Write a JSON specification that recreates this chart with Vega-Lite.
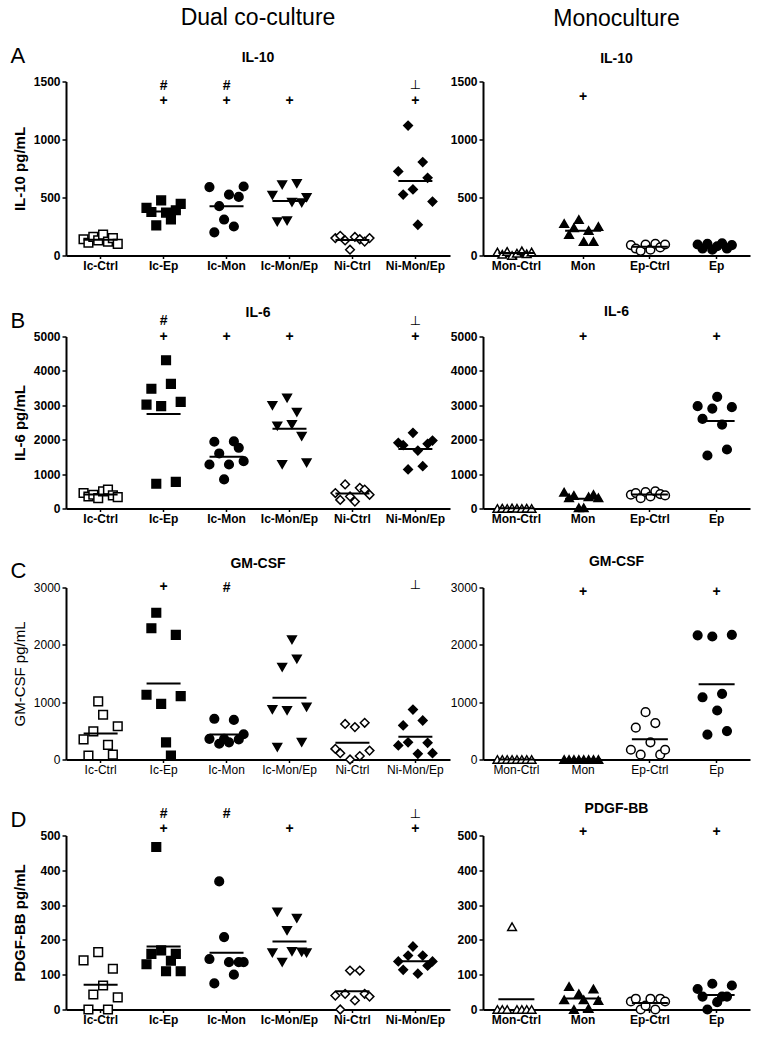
{
"$schema": "https://vega.github.io/schema/vega-lite/v6.json",
"background": "white",
"padding": {"left": 10, "top": 6.5, "right": 5, "bottom": 5},
"config": {
  "view": {"stroke": null},
  "axis": {"domainColor": "black", "domainWidth": 2, "tickColor": "black", "tickWidth": 1.5, "labelColor": "black", "titleColor": "black", "labelFont": "Liberation Sans", "titleFont": "Liberation Sans", "labelFontSize": 12, "labelFontWeight": "bold", "titleFontSize": 15, "titleFontWeight": "bold", "grid": false, "labelOverlap": false},
  "axisX": {"labelAngle": 0, "tickSize": 3, "labelPadding": 2},
  "axisY": {"tickSize": 4, "labelPadding": 2, "minExtent": 33, "titlePadding": 6, "format": "d", "labelOverlap": false, "tickCount": 10},
  "title": {"font": "Liberation Sans", "fontSize": 14, "fontWeight": "bold", "color": "black", "anchor": "middle", "frame": "group", "offset": 0, "subtitleFont": "Liberation Sans", "subtitleFontSize": 14, "subtitleFontWeight": "bold", "subtitleColor": "black", "subtitlePadding": 20.5}
},
"datasets": {
"pts": [
{"c":"IL-10","s":"d","g":"Ic-Ctrl","r":1,"v":140},{"c":"IL-10","s":"d","g":"Ic-Ctrl","r":2,"v":110},{"c":"IL-10","s":"d","g":"Ic-Ctrl","r":3,"v":160},{"c":"IL-10","s":"d","g":"Ic-Ctrl","r":4,"v":130},{"c":"IL-10","s":"d","g":"Ic-Ctrl","r":5,"v":180},{"c":"IL-10","s":"d","g":"Ic-Ctrl","r":6,"v":120},{"c":"IL-10","s":"d","g":"Ic-Ctrl","r":7,"v":150},{"c":"IL-10","s":"d","g":"Ic-Ctrl","r":8,"v":100},
{"c":"IL-10","s":"d","g":"Ic-Ep","r":1,"v":410},{"c":"IL-10","s":"d","g":"Ic-Ep","r":2,"v":375},{"c":"IL-10","s":"d","g":"Ic-Ep","r":3,"v":260},{"c":"IL-10","s":"d","g":"Ic-Ep","r":4,"v":475},{"c":"IL-10","s":"d","g":"Ic-Ep","r":5,"v":370},{"c":"IL-10","s":"d","g":"Ic-Ep","r":6,"v":310},{"c":"IL-10","s":"d","g":"Ic-Ep","r":7,"v":390},{"c":"IL-10","s":"d","g":"Ic-Ep","r":8,"v":445},
{"c":"IL-10","s":"d","g":"Ic-Mon","r":1,"v":590},{"c":"IL-10","s":"d","g":"Ic-Mon","r":2,"v":200},{"c":"IL-10","s":"d","g":"Ic-Mon","r":3,"v":425},{"c":"IL-10","s":"d","g":"Ic-Mon","r":4,"v":310},{"c":"IL-10","s":"d","g":"Ic-Mon","r":5,"v":525},{"c":"IL-10","s":"d","g":"Ic-Mon","r":6,"v":250},{"c":"IL-10","s":"d","g":"Ic-Mon","r":7,"v":505},{"c":"IL-10","s":"d","g":"Ic-Mon","r":8,"v":595},
{"c":"IL-10","s":"d","g":"Ic-Mon/Ep","r":1,"v":520},{"c":"IL-10","s":"d","g":"Ic-Mon/Ep","r":2,"v":290},{"c":"IL-10","s":"d","g":"Ic-Mon/Ep","r":3,"v":610},{"c":"IL-10","s":"d","g":"Ic-Mon/Ep","r":4,"v":300},{"c":"IL-10","s":"d","g":"Ic-Mon/Ep","r":5,"v":460},{"c":"IL-10","s":"d","g":"Ic-Mon/Ep","r":6,"v":620},{"c":"IL-10","s":"d","g":"Ic-Mon/Ep","r":7,"v":455},{"c":"IL-10","s":"d","g":"Ic-Mon/Ep","r":8,"v":500},
{"c":"IL-10","s":"d","g":"Ni-Ctrl","r":1,"v":150},{"c":"IL-10","s":"d","g":"Ni-Ctrl","r":2,"v":170},{"c":"IL-10","s":"d","g":"Ni-Ctrl","r":3,"v":130},{"c":"IL-10","s":"d","g":"Ni-Ctrl","r":4,"v":50},{"c":"IL-10","s":"d","g":"Ni-Ctrl","r":5,"v":160},{"c":"IL-10","s":"d","g":"Ni-Ctrl","r":6,"v":140},{"c":"IL-10","s":"d","g":"Ni-Ctrl","r":7,"v":120},{"c":"IL-10","s":"d","g":"Ni-Ctrl","r":8,"v":150},
{"c":"IL-10","s":"d","g":"Ni-Mon/Ep","r":1,"v":725},{"c":"IL-10","s":"d","g":"Ni-Mon/Ep","r":2,"v":525},{"c":"IL-10","s":"d","g":"Ni-Mon/Ep","r":3,"v":1120},{"c":"IL-10","s":"d","g":"Ni-Mon/Ep","r":4,"v":570},{"c":"IL-10","s":"d","g":"Ni-Mon/Ep","r":5,"v":265},{"c":"IL-10","s":"d","g":"Ni-Mon/Ep","r":6,"v":805},{"c":"IL-10","s":"d","g":"Ni-Mon/Ep","r":7,"v":670},{"c":"IL-10","s":"d","g":"Ni-Mon/Ep","r":8,"v":465},
{"c":"IL-10","s":"m","g":"Mon-Ctrl","r":1,"v":30},{"c":"IL-10","s":"m","g":"Mon-Ctrl","r":2,"v":10},{"c":"IL-10","s":"m","g":"Mon-Ctrl","r":3,"v":35},{"c":"IL-10","s":"m","g":"Mon-Ctrl","r":4,"v":0},{"c":"IL-10","s":"m","g":"Mon-Ctrl","r":5,"v":20},{"c":"IL-10","s":"m","g":"Mon-Ctrl","r":6,"v":40},{"c":"IL-10","s":"m","g":"Mon-Ctrl","r":7,"v":15},{"c":"IL-10","s":"m","g":"Mon-Ctrl","r":8,"v":30},
{"c":"IL-10","s":"m","g":"Mon","r":1,"v":275},{"c":"IL-10","s":"m","g":"Mon","r":2,"v":180},{"c":"IL-10","s":"m","g":"Mon","r":3,"v":240},{"c":"IL-10","s":"m","g":"Mon","r":4,"v":310},{"c":"IL-10","s":"m","g":"Mon","r":5,"v":120},{"c":"IL-10","s":"m","g":"Mon","r":6,"v":215},{"c":"IL-10","s":"m","g":"Mon","r":7,"v":120},{"c":"IL-10","s":"m","g":"Mon","r":8,"v":250},
{"c":"IL-10","s":"m","g":"Ep-Ctrl","r":1,"v":90},{"c":"IL-10","s":"m","g":"Ep-Ctrl","r":2,"v":60},{"c":"IL-10","s":"m","g":"Ep-Ctrl","r":3,"v":40},{"c":"IL-10","s":"m","g":"Ep-Ctrl","r":4,"v":95},{"c":"IL-10","s":"m","g":"Ep-Ctrl","r":5,"v":50},{"c":"IL-10","s":"m","g":"Ep-Ctrl","r":6,"v":100},{"c":"IL-10","s":"m","g":"Ep-Ctrl","r":7,"v":70},{"c":"IL-10","s":"m","g":"Ep-Ctrl","r":8,"v":95},
{"c":"IL-10","s":"m","g":"Ep","r":1,"v":95},{"c":"IL-10","s":"m","g":"Ep","r":2,"v":60},{"c":"IL-10","s":"m","g":"Ep","r":3,"v":100},{"c":"IL-10","s":"m","g":"Ep","r":4,"v":50},{"c":"IL-10","s":"m","g":"Ep","r":5,"v":80},{"c":"IL-10","s":"m","g":"Ep","r":6,"v":105},{"c":"IL-10","s":"m","g":"Ep","r":7,"v":60},{"c":"IL-10","s":"m","g":"Ep","r":8,"v":90},
{"c":"IL-6","s":"d","g":"Ic-Ctrl","r":1,"v":450},{"c":"IL-6","s":"d","g":"Ic-Ctrl","r":2,"v":350},{"c":"IL-6","s":"d","g":"Ic-Ctrl","r":3,"v":400},{"c":"IL-6","s":"d","g":"Ic-Ctrl","r":4,"v":300},{"c":"IL-6","s":"d","g":"Ic-Ctrl","r":5,"v":500},{"c":"IL-6","s":"d","g":"Ic-Ctrl","r":6,"v":550},{"c":"IL-6","s":"d","g":"Ic-Ctrl","r":7,"v":380},{"c":"IL-6","s":"d","g":"Ic-Ctrl","r":8,"v":330},
{"c":"IL-6","s":"d","g":"Ic-Ep","r":1,"v":3020},{"c":"IL-6","s":"d","g":"Ic-Ep","r":2,"v":3480},{"c":"IL-6","s":"d","g":"Ic-Ep","r":3,"v":720},{"c":"IL-6","s":"d","g":"Ic-Ep","r":4,"v":2975},{"c":"IL-6","s":"d","g":"Ic-Ep","r":5,"v":4310},{"c":"IL-6","s":"d","g":"Ic-Ep","r":6,"v":3625},{"c":"IL-6","s":"d","g":"Ic-Ep","r":7,"v":775},{"c":"IL-6","s":"d","g":"Ic-Ep","r":8,"v":3100},
{"c":"IL-6","s":"d","g":"Ic-Mon","r":1,"v":1280},{"c":"IL-6","s":"d","g":"Ic-Mon","r":2,"v":1940},{"c":"IL-6","s":"d","g":"Ic-Mon","r":3,"v":1600},{"c":"IL-6","s":"d","g":"Ic-Mon","r":4,"v":845},{"c":"IL-6","s":"d","g":"Ic-Mon","r":5,"v":1280},{"c":"IL-6","s":"d","g":"Ic-Mon","r":6,"v":1950},{"c":"IL-6","s":"d","g":"Ic-Mon","r":7,"v":1765},{"c":"IL-6","s":"d","g":"Ic-Mon","r":8,"v":1375},
{"c":"IL-6","s":"d","g":"Ic-Mon/Ep","r":1,"v":2995},{"c":"IL-6","s":"d","g":"Ic-Mon/Ep","r":2,"v":2400},{"c":"IL-6","s":"d","g":"Ic-Mon/Ep","r":3,"v":1280},{"c":"IL-6","s":"d","g":"Ic-Mon/Ep","r":4,"v":3215},{"c":"IL-6","s":"d","g":"Ic-Mon/Ep","r":5,"v":2440},{"c":"IL-6","s":"d","g":"Ic-Mon/Ep","r":6,"v":2800},{"c":"IL-6","s":"d","g":"Ic-Mon/Ep","r":7,"v":2100},{"c":"IL-6","s":"d","g":"Ic-Mon/Ep","r":8,"v":1330},
{"c":"IL-6","s":"d","g":"Ni-Ctrl","r":1,"v":450},{"c":"IL-6","s":"d","g":"Ni-Ctrl","r":2,"v":250},{"c":"IL-6","s":"d","g":"Ni-Ctrl","r":3,"v":700},{"c":"IL-6","s":"d","g":"Ni-Ctrl","r":4,"v":350},{"c":"IL-6","s":"d","g":"Ni-Ctrl","r":5,"v":200},{"c":"IL-6","s":"d","g":"Ni-Ctrl","r":6,"v":600},{"c":"IL-6","s":"d","g":"Ni-Ctrl","r":7,"v":550},{"c":"IL-6","s":"d","g":"Ni-Ctrl","r":8,"v":400},
{"c":"IL-6","s":"d","g":"Ni-Mon/Ep","r":1,"v":1910},{"c":"IL-6","s":"d","g":"Ni-Mon/Ep","r":2,"v":1840},{"c":"IL-6","s":"d","g":"Ni-Mon/Ep","r":3,"v":1135},{"c":"IL-6","s":"d","g":"Ni-Mon/Ep","r":4,"v":2200},{"c":"IL-6","s":"d","g":"Ni-Mon/Ep","r":5,"v":1685},{"c":"IL-6","s":"d","g":"Ni-Mon/Ep","r":6,"v":1230},{"c":"IL-6","s":"d","g":"Ni-Mon/Ep","r":7,"v":1880},{"c":"IL-6","s":"d","g":"Ni-Mon/Ep","r":8,"v":1975},
{"c":"IL-6","s":"m","g":"Mon-Ctrl","r":1,"v":0},{"c":"IL-6","s":"m","g":"Mon-Ctrl","r":2,"v":10},{"c":"IL-6","s":"m","g":"Mon-Ctrl","r":3,"v":0},{"c":"IL-6","s":"m","g":"Mon-Ctrl","r":4,"v":15},{"c":"IL-6","s":"m","g":"Mon-Ctrl","r":5,"v":5},{"c":"IL-6","s":"m","g":"Mon-Ctrl","r":6,"v":0},{"c":"IL-6","s":"m","g":"Mon-Ctrl","r":7,"v":10},{"c":"IL-6","s":"m","g":"Mon-Ctrl","r":8,"v":0},
{"c":"IL-6","s":"m","g":"Mon","r":1,"v":475},{"c":"IL-6","s":"m","g":"Mon","r":2,"v":310},{"c":"IL-6","s":"m","g":"Mon","r":3,"v":380},{"c":"IL-6","s":"m","g":"Mon","r":4,"v":20},{"c":"IL-6","s":"m","g":"Mon","r":5,"v":20},{"c":"IL-6","s":"m","g":"Mon","r":6,"v":340},{"c":"IL-6","s":"m","g":"Mon","r":7,"v":405},{"c":"IL-6","s":"m","g":"Mon","r":8,"v":310},
{"c":"IL-6","s":"m","g":"Ep-Ctrl","r":1,"v":400},{"c":"IL-6","s":"m","g":"Ep-Ctrl","r":2,"v":450},{"c":"IL-6","s":"m","g":"Ep-Ctrl","r":3,"v":300},{"c":"IL-6","s":"m","g":"Ep-Ctrl","r":4,"v":480},{"c":"IL-6","s":"m","g":"Ep-Ctrl","r":5,"v":350},{"c":"IL-6","s":"m","g":"Ep-Ctrl","r":6,"v":500},{"c":"IL-6","s":"m","g":"Ep-Ctrl","r":7,"v":420},{"c":"IL-6","s":"m","g":"Ep-Ctrl","r":8,"v":380},
{"c":"IL-6","s":"m","g":"Ep","r":1,"v":2975},{"c":"IL-6","s":"m","g":"Ep","r":2,"v":2605},{"c":"IL-6","s":"m","g":"Ep","r":3,"v":1540},{"c":"IL-6","s":"m","g":"Ep","r":4,"v":2905},{"c":"IL-6","s":"m","g":"Ep","r":5,"v":3245},{"c":"IL-6","s":"m","g":"Ep","r":6,"v":2440},{"c":"IL-6","s":"m","g":"Ep","r":7,"v":1715},{"c":"IL-6","s":"m","g":"Ep","r":8,"v":2945},
{"c":"GM-CSF","s":"d","g":"Ic-Ctrl","r":1,"v":350},{"c":"GM-CSF","s":"d","g":"Ic-Ctrl","r":2,"v":70},{"c":"GM-CSF","s":"d","g":"Ic-Ctrl","r":3,"v":490},{"c":"GM-CSF","s":"d","g":"Ic-Ctrl","r":4,"v":1015},{"c":"GM-CSF","s":"d","g":"Ic-Ctrl","r":5,"v":780},{"c":"GM-CSF","s":"d","g":"Ic-Ctrl","r":6,"v":255},{"c":"GM-CSF","s":"d","g":"Ic-Ctrl","r":7,"v":85},{"c":"GM-CSF","s":"d","g":"Ic-Ctrl","r":8,"v":580},
{"c":"GM-CSF","s":"d","g":"Ic-Ep","r":1,"v":1130},{"c":"GM-CSF","s":"d","g":"Ic-Ep","r":2,"v":2290},{"c":"GM-CSF","s":"d","g":"Ic-Ep","r":3,"v":2560},{"c":"GM-CSF","s":"d","g":"Ic-Ep","r":4,"v":970},{"c":"GM-CSF","s":"d","g":"Ic-Ep","r":5,"v":300},{"c":"GM-CSF","s":"d","g":"Ic-Ep","r":6,"v":70},{"c":"GM-CSF","s":"d","g":"Ic-Ep","r":7,"v":2175},{"c":"GM-CSF","s":"d","g":"Ic-Ep","r":8,"v":1105},
{"c":"GM-CSF","s":"d","g":"Ic-Mon","r":1,"v":360},{"c":"GM-CSF","s":"d","g":"Ic-Mon","r":2,"v":710},{"c":"GM-CSF","s":"d","g":"Ic-Mon","r":3,"v":275},{"c":"GM-CSF","s":"d","g":"Ic-Mon","r":4,"v":360},{"c":"GM-CSF","s":"d","g":"Ic-Mon","r":5,"v":300},{"c":"GM-CSF","s":"d","g":"Ic-Mon","r":6,"v":690},{"c":"GM-CSF","s":"d","g":"Ic-Mon","r":7,"v":350},{"c":"GM-CSF","s":"d","g":"Ic-Mon","r":8,"v":440},
{"c":"GM-CSF","s":"d","g":"Ic-Mon/Ep","r":1,"v":870},{"c":"GM-CSF","s":"d","g":"Ic-Mon/Ep","r":2,"v":215},{"c":"GM-CSF","s":"d","g":"Ic-Mon/Ep","r":3,"v":1610},{"c":"GM-CSF","s":"d","g":"Ic-Mon/Ep","r":4,"v":855},{"c":"GM-CSF","s":"d","g":"Ic-Mon/Ep","r":5,"v":2090},{"c":"GM-CSF","s":"d","g":"Ic-Mon/Ep","r":6,"v":1755},{"c":"GM-CSF","s":"d","g":"Ic-Mon/Ep","r":7,"v":300},{"c":"GM-CSF","s":"d","g":"Ic-Mon/Ep","r":8,"v":915},
{"c":"GM-CSF","s":"d","g":"Ni-Ctrl","r":1,"v":185},{"c":"GM-CSF","s":"d","g":"Ni-Ctrl","r":2,"v":110},{"c":"GM-CSF","s":"d","g":"Ni-Ctrl","r":3,"v":620},{"c":"GM-CSF","s":"d","g":"Ni-Ctrl","r":4,"v":0},{"c":"GM-CSF","s":"d","g":"Ni-Ctrl","r":5,"v":565},{"c":"GM-CSF","s":"d","g":"Ni-Ctrl","r":6,"v":60},{"c":"GM-CSF","s":"d","g":"Ni-Ctrl","r":7,"v":640},{"c":"GM-CSF","s":"d","g":"Ni-Ctrl","r":8,"v":155},
{"c":"GM-CSF","s":"d","g":"Ni-Mon/Ep","r":1,"v":245},{"c":"GM-CSF","s":"d","g":"Ni-Mon/Ep","r":2,"v":595},{"c":"GM-CSF","s":"d","g":"Ni-Mon/Ep","r":3,"v":300},{"c":"GM-CSF","s":"d","g":"Ni-Mon/Ep","r":4,"v":870},{"c":"GM-CSF","s":"d","g":"Ni-Mon/Ep","r":5,"v":100},{"c":"GM-CSF","s":"d","g":"Ni-Mon/Ep","r":6,"v":680},{"c":"GM-CSF","s":"d","g":"Ni-Mon/Ep","r":7,"v":290},{"c":"GM-CSF","s":"d","g":"Ni-Mon/Ep","r":8,"v":110},
{"c":"GM-CSF","s":"m","g":"Mon-Ctrl","r":1,"v":0},{"c":"GM-CSF","s":"m","g":"Mon-Ctrl","r":2,"v":0},{"c":"GM-CSF","s":"m","g":"Mon-Ctrl","r":3,"v":0},{"c":"GM-CSF","s":"m","g":"Mon-Ctrl","r":4,"v":0},{"c":"GM-CSF","s":"m","g":"Mon-Ctrl","r":5,"v":0},{"c":"GM-CSF","s":"m","g":"Mon-Ctrl","r":6,"v":0},{"c":"GM-CSF","s":"m","g":"Mon-Ctrl","r":7,"v":0},{"c":"GM-CSF","s":"m","g":"Mon-Ctrl","r":8,"v":0},
{"c":"GM-CSF","s":"m","g":"Mon","r":1,"v":0},{"c":"GM-CSF","s":"m","g":"Mon","r":2,"v":0},{"c":"GM-CSF","s":"m","g":"Mon","r":3,"v":0},{"c":"GM-CSF","s":"m","g":"Mon","r":4,"v":0},{"c":"GM-CSF","s":"m","g":"Mon","r":5,"v":0},{"c":"GM-CSF","s":"m","g":"Mon","r":6,"v":0},{"c":"GM-CSF","s":"m","g":"Mon","r":7,"v":0},{"c":"GM-CSF","s":"m","g":"Mon","r":8,"v":0},
{"c":"GM-CSF","s":"m","g":"Ep-Ctrl","r":1,"v":170},{"c":"GM-CSF","s":"m","g":"Ep-Ctrl","r":2,"v":555},{"c":"GM-CSF","s":"m","g":"Ep-Ctrl","r":3,"v":85},{"c":"GM-CSF","s":"m","g":"Ep-Ctrl","r":4,"v":825},{"c":"GM-CSF","s":"m","g":"Ep-Ctrl","r":5,"v":300},{"c":"GM-CSF","s":"m","g":"Ep-Ctrl","r":6,"v":635},{"c":"GM-CSF","s":"m","g":"Ep-Ctrl","r":7,"v":85},{"c":"GM-CSF","s":"m","g":"Ep-Ctrl","r":8,"v":170},
{"c":"GM-CSF","s":"m","g":"Ep","r":1,"v":2165},{"c":"GM-CSF","s":"m","g":"Ep","r":2,"v":1085},{"c":"GM-CSF","s":"m","g":"Ep","r":3,"v":435},{"c":"GM-CSF","s":"m","g":"Ep","r":4,"v":2145},{"c":"GM-CSF","s":"m","g":"Ep","r":5,"v":855},{"c":"GM-CSF","s":"m","g":"Ep","r":6,"v":1145},{"c":"GM-CSF","s":"m","g":"Ep","r":7,"v":495},{"c":"GM-CSF","s":"m","g":"Ep","r":8,"v":2175},
{"c":"PDGF-BB","s":"d","g":"Ic-Ctrl","r":1,"v":141},{"c":"PDGF-BB","s":"d","g":"Ic-Ctrl","r":2,"v":0},{"c":"PDGF-BB","s":"d","g":"Ic-Ctrl","r":3,"v":43},{"c":"PDGF-BB","s":"d","g":"Ic-Ctrl","r":4,"v":165},{"c":"PDGF-BB","s":"d","g":"Ic-Ctrl","r":5,"v":69},{"c":"PDGF-BB","s":"d","g":"Ic-Ctrl","r":6,"v":0},{"c":"PDGF-BB","s":"d","g":"Ic-Ctrl","r":7,"v":117},{"c":"PDGF-BB","s":"d","g":"Ic-Ctrl","r":8,"v":35},
{"c":"PDGF-BB","s":"d","g":"Ic-Ep","r":1,"v":130},{"c":"PDGF-BB","s":"d","g":"Ic-Ep","r":2,"v":160},{"c":"PDGF-BB","s":"d","g":"Ic-Ep","r":3,"v":467},{"c":"PDGF-BB","s":"d","g":"Ic-Ep","r":4,"v":170},{"c":"PDGF-BB","s":"d","g":"Ic-Ep","r":5,"v":110},{"c":"PDGF-BB","s":"d","g":"Ic-Ep","r":6,"v":140},{"c":"PDGF-BB","s":"d","g":"Ic-Ep","r":7,"v":160},{"c":"PDGF-BB","s":"d","g":"Ic-Ep","r":8,"v":110},
{"c":"PDGF-BB","s":"d","g":"Ic-Mon","r":1,"v":145},{"c":"PDGF-BB","s":"d","g":"Ic-Mon","r":2,"v":75},{"c":"PDGF-BB","s":"d","g":"Ic-Mon","r":3,"v":368},{"c":"PDGF-BB","s":"d","g":"Ic-Mon","r":4,"v":208},{"c":"PDGF-BB","s":"d","g":"Ic-Mon","r":5,"v":136},{"c":"PDGF-BB","s":"d","g":"Ic-Mon","r":6,"v":100},{"c":"PDGF-BB","s":"d","g":"Ic-Mon","r":7,"v":136},{"c":"PDGF-BB","s":"d","g":"Ic-Mon","r":8,"v":136},
{"c":"PDGF-BB","s":"d","g":"Ic-Mon/Ep","r":1,"v":163},{"c":"PDGF-BB","s":"d","g":"Ic-Mon/Ep","r":2,"v":280},{"c":"PDGF-BB","s":"d","g":"Ic-Mon/Ep","r":3,"v":136},{"c":"PDGF-BB","s":"d","g":"Ic-Mon/Ep","r":4,"v":227},{"c":"PDGF-BB","s":"d","g":"Ic-Mon/Ep","r":5,"v":167},{"c":"PDGF-BB","s":"d","g":"Ic-Mon/Ep","r":6,"v":262},{"c":"PDGF-BB","s":"d","g":"Ic-Mon/Ep","r":7,"v":165},{"c":"PDGF-BB","s":"d","g":"Ic-Mon/Ep","r":8,"v":163},
{"c":"PDGF-BB","s":"d","g":"Ni-Ctrl","r":1,"v":40},{"c":"PDGF-BB","s":"d","g":"Ni-Ctrl","r":2,"v":0},{"c":"PDGF-BB","s":"d","g":"Ni-Ctrl","r":3,"v":45},{"c":"PDGF-BB","s":"d","g":"Ni-Ctrl","r":4,"v":112},{"c":"PDGF-BB","s":"d","g":"Ni-Ctrl","r":5,"v":26},{"c":"PDGF-BB","s":"d","g":"Ni-Ctrl","r":6,"v":112},{"c":"PDGF-BB","s":"d","g":"Ni-Ctrl","r":7,"v":45},{"c":"PDGF-BB","s":"d","g":"Ni-Ctrl","r":8,"v":37},
{"c":"PDGF-BB","s":"d","g":"Ni-Mon/Ep","r":1,"v":138},{"c":"PDGF-BB","s":"d","g":"Ni-Mon/Ep","r":2,"v":114},{"c":"PDGF-BB","s":"d","g":"Ni-Mon/Ep","r":3,"v":155},{"c":"PDGF-BB","s":"d","g":"Ni-Mon/Ep","r":4,"v":181},{"c":"PDGF-BB","s":"d","g":"Ni-Mon/Ep","r":5,"v":103},{"c":"PDGF-BB","s":"d","g":"Ni-Mon/Ep","r":6,"v":155},{"c":"PDGF-BB","s":"d","g":"Ni-Mon/Ep","r":7,"v":126},{"c":"PDGF-BB","s":"d","g":"Ni-Mon/Ep","r":8,"v":138},
{"c":"PDGF-BB","s":"m","g":"Mon-Ctrl","r":1,"v":0},{"c":"PDGF-BB","s":"m","g":"Mon-Ctrl","r":2,"v":0},{"c":"PDGF-BB","s":"m","g":"Mon-Ctrl","r":3,"v":0},{"c":"PDGF-BB","s":"m","g":"Mon-Ctrl","r":4,"v":238},{"c":"PDGF-BB","s":"m","g":"Mon-Ctrl","r":5,"v":0},{"c":"PDGF-BB","s":"m","g":"Mon-Ctrl","r":6,"v":0},{"c":"PDGF-BB","s":"m","g":"Mon-Ctrl","r":7,"v":0},{"c":"PDGF-BB","s":"m","g":"Mon-Ctrl","r":8,"v":0},
{"c":"PDGF-BB","s":"m","g":"Mon","r":1,"v":28},{"c":"PDGF-BB","s":"m","g":"Mon","r":2,"v":66},{"c":"PDGF-BB","s":"m","g":"Mon","r":3,"v":0},{"c":"PDGF-BB","s":"m","g":"Mon","r":4,"v":45},{"c":"PDGF-BB","s":"m","g":"Mon","r":5,"v":28},{"c":"PDGF-BB","s":"m","g":"Mon","r":6,"v":3},{"c":"PDGF-BB","s":"m","g":"Mon","r":7,"v":59},{"c":"PDGF-BB","s":"m","g":"Mon","r":8,"v":26},
{"c":"PDGF-BB","s":"m","g":"Ep-Ctrl","r":1,"v":23},{"c":"PDGF-BB","s":"m","g":"Ep-Ctrl","r":2,"v":31},{"c":"PDGF-BB","s":"m","g":"Ep-Ctrl","r":3,"v":0},{"c":"PDGF-BB","s":"m","g":"Ep-Ctrl","r":4,"v":11},{"c":"PDGF-BB","s":"m","g":"Ep-Ctrl","r":5,"v":31},{"c":"PDGF-BB","s":"m","g":"Ep-Ctrl","r":6,"v":0},{"c":"PDGF-BB","s":"m","g":"Ep-Ctrl","r":7,"v":31},{"c":"PDGF-BB","s":"m","g":"Ep-Ctrl","r":8,"v":23},
{"c":"PDGF-BB","s":"m","g":"Ep","r":1,"v":59},{"c":"PDGF-BB","s":"m","g":"Ep","r":2,"v":37},{"c":"PDGF-BB","s":"m","g":"Ep","r":3,"v":0},{"c":"PDGF-BB","s":"m","g":"Ep","r":4,"v":74},{"c":"PDGF-BB","s":"m","g":"Ep","r":5,"v":21},{"c":"PDGF-BB","s":"m","g":"Ep","r":6,"v":37},{"c":"PDGF-BB","s":"m","g":"Ep","r":7,"v":37},{"c":"PDGF-BB","s":"m","g":"Ep","r":8,"v":69}
],
"ann": [
{"c":"IL-10","s":"d","g":"Ic-Ep","m":"+","v":1336},{"c":"IL-10","s":"d","g":"Ic-Ep","m":"#","v":1460},{"c":"IL-10","s":"d","g":"Ic-Mon","m":"+","v":1336},{"c":"IL-10","s":"d","g":"Ic-Mon","m":"#","v":1460},{"c":"IL-10","s":"d","g":"Ic-Mon/Ep","m":"+","v":1336},{"c":"IL-10","s":"d","g":"Ni-Mon/Ep","m":"+","v":1336},{"c":"IL-10","s":"d","g":"Ni-Mon/Ep","m":"⊥","v":1474},
{"c":"IL-10","s":"m","g":"Mon","m":"+","v":1364},
{"c":"IL-6","s":"d","g":"Ic-Ep","m":"+","v":5000},{"c":"IL-6","s":"d","g":"Ic-Ep","m":"#","v":5445},{"c":"IL-6","s":"d","g":"Ic-Mon","m":"+","v":5000},{"c":"IL-6","s":"d","g":"Ic-Mon/Ep","m":"+","v":5000},{"c":"IL-6","s":"d","g":"Ni-Mon/Ep","m":"+","v":5000},{"c":"IL-6","s":"d","g":"Ni-Mon/Ep","m":"⊥","v":5440},
{"c":"IL-6","s":"m","g":"Mon","m":"+","v":5000},{"c":"IL-6","s":"m","g":"Ep","m":"+","v":5000},
{"c":"GM-CSF","s":"d","g":"Ic-Ep","m":"+","v":3010},{"c":"GM-CSF","s":"d","g":"Ic-Mon","m":"#","v":3000},{"c":"GM-CSF","s":"d","g":"Ni-Mon/Ep","m":"⊥","v":3035},
{"c":"GM-CSF","s":"m","g":"Mon","m":"+","v":2920},{"c":"GM-CSF","s":"m","g":"Ep","m":"+","v":2920},
{"c":"PDGF-BB","s":"d","g":"Ic-Ep","m":"+","v":519},{"c":"PDGF-BB","s":"d","g":"Ic-Ep","m":"#","v":562},{"c":"PDGF-BB","s":"d","g":"Ic-Mon","m":"#","v":562},{"c":"PDGF-BB","s":"d","g":"Ic-Mon/Ep","m":"+","v":519},{"c":"PDGF-BB","s":"d","g":"Ni-Mon/Ep","m":"+","v":519},{"c":"PDGF-BB","s":"d","g":"Ni-Mon/Ep","m":"⊥","v":562},
{"c":"PDGF-BB","s":"m","g":"Mon","m":"+","v":511},{"c":"PDGF-BB","s":"m","g":"Ep","m":"+","v":511}
]
},
"spacing": 16,
"vconcat": [
{"spacing": 0, "hconcat": [
 {"width": 384, "height": 174,
  "title": {"text": "Dual co-culture", "subtitle": "IL-10", "fontSize": 23, "fontWeight": "normal", "dy": 24},
  "layer": [
   {"data": {"name": "pts"}, "transform": [{"filter": "datum.c=='IL-10' && datum.s=='d'"}],
    "mark": {"type": "point", "filled": true, "size": 75, "stroke": "black", "strokeWidth": 1.5, "opacity": 1},
    "encoding": {
     "x": {"field": "g", "type": "nominal", "scale": {"domain": ["Ic-Ctrl","Ic-Ep","Ic-Mon","Ic-Mon/Ep","Ni-Ctrl","Ni-Mon/Ep"], "paddingInner": 0, "paddingOuter": 0.05}, "axis": {"title": "A", "titleX": -56, "titleY": -193, "titleAngle": 0, "titleFontSize": 22, "titleFontWeight": "normal", "titleAlign": "left", "titleBaseline": "alphabetic", "minExtent": 33}},
     "xOffset": {"field": "r", "type": "ordinal", "scale": {"range": [14.4, 48.6], "paddingInner": 0, "paddingOuter": 0}},
     "y": {"field": "v", "type": "quantitative", "scale": {"domain": [0, 1500], "nice": false}, "axis": {"values": [0, 500, 1000, 1500], "tickCount": 10, "format": "d", "labelOverlap": false, "title": "IL-10 pg/mL"}},
     "shape": {"field": "g", "type": "nominal", "scale": {"domain": ["Ic-Ctrl","Ic-Ep","Ic-Mon","Ic-Mon/Ep","Ni-Ctrl","Ni-Mon/Ep","Mon-Ctrl","Mon","Ep-Ctrl","Ep"], "range": ["square","square","circle","triangle-down","diamond","diamond","triangle-up","triangle-up","circle","circle"]}, "legend": null},
     "fill": {"field": "g", "type": "nominal", "scale": {"domain": ["Ic-Ctrl","Ic-Ep","Ic-Mon","Ic-Mon/Ep","Ni-Ctrl","Ni-Mon/Ep","Mon-Ctrl","Mon","Ep-Ctrl","Ep"], "range": ["white","black","black","black","white","black","white","black","white","black"]}, "legend": null}
    }},
   {"data": {"name": "pts"}, "transform": [{"filter": "datum.c=='IL-10' && datum.s=='d'"}],
    "mark": {"type": "tick", "size": 34, "thickness": 2, "color": "black", "opacity": 1},
    "encoding": {
     "x": {"field": "g", "type": "nominal", "scale": {"domain": ["Ic-Ctrl","Ic-Ep","Ic-Mon","Ic-Mon/Ep","Ni-Ctrl","Ni-Mon/Ep"], "paddingInner": 0, "paddingOuter": 0.05}},
     "y": {"aggregate": "mean", "field": "v", "type": "quantitative", "scale": {"domain": [0, 1500], "nice": false}}
    }},
   {"data": {"name": "ann"}, "transform": [{"filter": "datum.c=='IL-10' && datum.s=='d' && datum.m!='⊥'"}],
    "mark": {"type": "text", "font": "Liberation Sans", "fontSize": 14, "fontWeight": "bold", "color": "black", "baseline": "middle"},
    "encoding": {
     "x": {"field": "g", "type": "nominal", "scale": {"domain": ["Ic-Ctrl","Ic-Ep","Ic-Mon","Ic-Mon/Ep","Ni-Ctrl","Ni-Mon/Ep"], "paddingInner": 0, "paddingOuter": 0.05}},
     "y": {"field": "v", "type": "quantitative", "scale": {"domain": [0, 1500], "nice": false}},
     "text": {"field": "m"}
    }},
   {"data": {"name": "ann"}, "transform": [{"filter": "datum.c=='IL-10' && datum.s=='d' && datum.m=='⊥'"}],
    "mark": {"type": "text", "font": "DejaVu Sans", "fontSize": 13, "color": "black", "baseline": "middle"},
    "encoding": {
     "x": {"field": "g", "type": "nominal", "scale": {"domain": ["Ic-Ctrl","Ic-Ep","Ic-Mon","Ic-Mon/Ep","Ni-Ctrl","Ni-Mon/Ep"], "paddingInner": 0, "paddingOuter": 0.05}},
     "y": {"field": "v", "type": "quantitative", "scale": {"domain": [0, 1500], "nice": false}},
     "text": {"field": "m"}
    }}
  ]},
 {"width": 267, "height": 174,
  "title": {"text": "Monoculture", "subtitle": "IL-10", "fontSize": 23, "fontWeight": "normal", "dy": -6},
  "layer": [
   {"data": {"name": "pts"}, "transform": [{"filter": "datum.c=='IL-10' && datum.s=='m'"}],
    "mark": {"type": "point", "filled": true, "size": 75, "stroke": "black", "strokeWidth": 1.5, "opacity": 1},
    "encoding": {
     "x": {"field": "g", "type": "nominal", "scale": {"domain": ["Mon-Ctrl","Mon","Ep-Ctrl","Ep"], "paddingInner": 0, "paddingOuter": 0}, "axis": {"title": null, "minExtent": 33}},
     "xOffset": {"field": "r", "type": "ordinal", "scale": {"range": [16.3, 50.5], "paddingInner": 0, "paddingOuter": 0}},
     "y": {"field": "v", "type": "quantitative", "scale": {"domain": [0, 1500], "nice": false}, "axis": {"values": [0, 500, 1000, 1500], "tickCount": 10, "format": "d", "labelOverlap": false, "title": null}},
     "shape": {"field": "g", "type": "nominal", "scale": {"domain": ["Ic-Ctrl","Ic-Ep","Ic-Mon","Ic-Mon/Ep","Ni-Ctrl","Ni-Mon/Ep","Mon-Ctrl","Mon","Ep-Ctrl","Ep"], "range": ["square","square","circle","triangle-down","diamond","diamond","triangle-up","triangle-up","circle","circle"]}, "legend": null},
     "fill": {"field": "g", "type": "nominal", "scale": {"domain": ["Ic-Ctrl","Ic-Ep","Ic-Mon","Ic-Mon/Ep","Ni-Ctrl","Ni-Mon/Ep","Mon-Ctrl","Mon","Ep-Ctrl","Ep"], "range": ["white","black","black","black","white","black","white","black","white","black"]}, "legend": null}
    }},
   {"data": {"name": "pts"}, "transform": [{"filter": "datum.c=='IL-10' && datum.s=='m'"}],
    "mark": {"type": "tick", "size": 36, "thickness": 2, "color": "black", "opacity": 1},
    "encoding": {
     "x": {"field": "g", "type": "nominal", "scale": {"domain": ["Mon-Ctrl","Mon","Ep-Ctrl","Ep"], "paddingInner": 0, "paddingOuter": 0}},
     "y": {"aggregate": "mean", "field": "v", "type": "quantitative", "scale": {"domain": [0, 1500], "nice": false}}
    }},
   {"data": {"name": "ann"}, "transform": [{"filter": "datum.c=='IL-10' && datum.s=='m'"}],
    "mark": {"type": "text", "font": "Liberation Sans", "fontSize": 14, "fontWeight": "bold", "color": "black", "baseline": "middle"},
    "encoding": {
     "x": {"field": "g", "type": "nominal", "scale": {"domain": ["Mon-Ctrl","Mon","Ep-Ctrl","Ep"], "paddingInner": 0, "paddingOuter": 0}},
     "y": {"field": "v", "type": "quantitative", "scale": {"domain": [0, 1500], "nice": false}},
     "text": {"field": "m"}
    }}
  ]}
]},
{"spacing": 0, "hconcat": [
 {"width": 384, "height": 172,
  "title": {"text": "IL-6", "dy": 14},
  "layer": [
   {"data": {"name": "pts"}, "transform": [{"filter": "datum.c=='IL-6' && datum.s=='d'"}],
    "mark": {"type": "point", "filled": true, "size": 75, "stroke": "black", "strokeWidth": 1.5, "opacity": 1},
    "encoding": {
     "x": {"field": "g", "type": "nominal", "scale": {"domain": ["Ic-Ctrl","Ic-Ep","Ic-Mon","Ic-Mon/Ep","Ni-Ctrl","Ni-Mon/Ep"], "paddingInner": 0, "paddingOuter": 0.05}, "axis": {"title": "B", "titleX": -56, "titleY": -181, "titleAngle": 0, "titleFontSize": 22, "titleFontWeight": "normal", "titleAlign": "left", "titleBaseline": "alphabetic", "minExtent": 30}},
     "xOffset": {"field": "r", "type": "ordinal", "scale": {"range": [14.4, 48.6], "paddingInner": 0, "paddingOuter": 0}},
     "y": {"field": "v", "type": "quantitative", "scale": {"domain": [0, 5000], "nice": false}, "axis": {"values": [0, 1000, 2000, 3000, 4000, 5000], "tickCount": 10, "format": "d", "labelOverlap": false, "title": "IL-6 pg/mL"}},
     "shape": {"field": "g", "type": "nominal", "scale": {"domain": ["Ic-Ctrl","Ic-Ep","Ic-Mon","Ic-Mon/Ep","Ni-Ctrl","Ni-Mon/Ep","Mon-Ctrl","Mon","Ep-Ctrl","Ep"], "range": ["square","square","circle","triangle-down","diamond","diamond","triangle-up","triangle-up","circle","circle"]}, "legend": null},
     "fill": {"field": "g", "type": "nominal", "scale": {"domain": ["Ic-Ctrl","Ic-Ep","Ic-Mon","Ic-Mon/Ep","Ni-Ctrl","Ni-Mon/Ep","Mon-Ctrl","Mon","Ep-Ctrl","Ep"], "range": ["white","black","black","black","white","black","white","black","white","black"]}, "legend": null}
    }},
   {"data": {"name": "pts"}, "transform": [{"filter": "datum.c=='IL-6' && datum.s=='d'"}],
    "mark": {"type": "tick", "size": 34, "thickness": 2, "color": "black", "opacity": 1},
    "encoding": {
     "x": {"field": "g", "type": "nominal", "scale": {"domain": ["Ic-Ctrl","Ic-Ep","Ic-Mon","Ic-Mon/Ep","Ni-Ctrl","Ni-Mon/Ep"], "paddingInner": 0, "paddingOuter": 0.05}},
     "y": {"aggregate": "mean", "field": "v", "type": "quantitative", "scale": {"domain": [0, 5000], "nice": false}}
    }},
   {"data": {"name": "ann"}, "transform": [{"filter": "datum.c=='IL-6' && datum.s=='d' && datum.m!='⊥'"}],
    "mark": {"type": "text", "font": "Liberation Sans", "fontSize": 14, "fontWeight": "bold", "color": "black", "baseline": "middle"},
    "encoding": {
     "x": {"field": "g", "type": "nominal", "scale": {"domain": ["Ic-Ctrl","Ic-Ep","Ic-Mon","Ic-Mon/Ep","Ni-Ctrl","Ni-Mon/Ep"], "paddingInner": 0, "paddingOuter": 0.05}},
     "y": {"field": "v", "type": "quantitative", "scale": {"domain": [0, 5000], "nice": false}},
     "text": {"field": "m"}
    }},
   {"data": {"name": "ann"}, "transform": [{"filter": "datum.c=='IL-6' && datum.s=='d' && datum.m=='⊥'"}],
    "mark": {"type": "text", "font": "DejaVu Sans", "fontSize": 13, "color": "black", "baseline": "middle"},
    "encoding": {
     "x": {"field": "g", "type": "nominal", "scale": {"domain": ["Ic-Ctrl","Ic-Ep","Ic-Mon","Ic-Mon/Ep","Ni-Ctrl","Ni-Mon/Ep"], "paddingInner": 0, "paddingOuter": 0.05}},
     "y": {"field": "v", "type": "quantitative", "scale": {"domain": [0, 5000], "nice": false}},
     "text": {"field": "m"}
    }}
  ]},
 {"width": 267, "height": 172,
  "title": {"text": "IL-6", "dy": -7},
  "layer": [
   {"data": {"name": "pts"}, "transform": [{"filter": "datum.c=='IL-6' && datum.s=='m'"}],
    "mark": {"type": "point", "filled": true, "size": 75, "stroke": "black", "strokeWidth": 1.5, "opacity": 1},
    "encoding": {
     "x": {"field": "g", "type": "nominal", "scale": {"domain": ["Mon-Ctrl","Mon","Ep-Ctrl","Ep"], "paddingInner": 0, "paddingOuter": 0}, "axis": {"title": null, "minExtent": 30}},
     "xOffset": {"field": "r", "type": "ordinal", "scale": {"range": [16.3, 50.5], "paddingInner": 0, "paddingOuter": 0}},
     "y": {"field": "v", "type": "quantitative", "scale": {"domain": [0, 5000], "nice": false}, "axis": {"values": [0, 1000, 2000, 3000, 4000, 5000], "tickCount": 10, "format": "d", "labelOverlap": false, "title": null}},
     "shape": {"field": "g", "type": "nominal", "scale": {"domain": ["Ic-Ctrl","Ic-Ep","Ic-Mon","Ic-Mon/Ep","Ni-Ctrl","Ni-Mon/Ep","Mon-Ctrl","Mon","Ep-Ctrl","Ep"], "range": ["square","square","circle","triangle-down","diamond","diamond","triangle-up","triangle-up","circle","circle"]}, "legend": null},
     "fill": {"field": "g", "type": "nominal", "scale": {"domain": ["Ic-Ctrl","Ic-Ep","Ic-Mon","Ic-Mon/Ep","Ni-Ctrl","Ni-Mon/Ep","Mon-Ctrl","Mon","Ep-Ctrl","Ep"], "range": ["white","black","black","black","white","black","white","black","white","black"]}, "legend": null}
    }},
   {"data": {"name": "pts"}, "transform": [{"filter": "datum.c=='IL-6' && datum.s=='m'"}],
    "mark": {"type": "tick", "size": 36, "thickness": 2, "color": "black", "opacity": 1},
    "encoding": {
     "x": {"field": "g", "type": "nominal", "scale": {"domain": ["Mon-Ctrl","Mon","Ep-Ctrl","Ep"], "paddingInner": 0, "paddingOuter": 0}},
     "y": {"aggregate": "mean", "field": "v", "type": "quantitative", "scale": {"domain": [0, 5000], "nice": false}}
    }},
   {"data": {"name": "ann"}, "transform": [{"filter": "datum.c=='IL-6' && datum.s=='m'"}],
    "mark": {"type": "text", "font": "Liberation Sans", "fontSize": 14, "fontWeight": "bold", "color": "black", "baseline": "middle"},
    "encoding": {
     "x": {"field": "g", "type": "nominal", "scale": {"domain": ["Mon-Ctrl","Mon","Ep-Ctrl","Ep"], "paddingInner": 0, "paddingOuter": 0}},
     "y": {"field": "v", "type": "quantitative", "scale": {"domain": [0, 5000], "nice": false}},
     "text": {"field": "m"}
    }}
  ]}
]},
{"spacing": 0, "hconcat": [
 {"width": 384, "height": 172,
  "title": {"text": "GM-CSF", "dy": 15},
  "layer": [
   {"data": {"name": "pts"}, "transform": [{"filter": "datum.c=='GM-CSF' && datum.s=='d'"}],
    "mark": {"type": "point", "filled": true, "size": 75, "stroke": "black", "strokeWidth": 1.5, "opacity": 1},
    "encoding": {
     "x": {"field": "g", "type": "nominal", "scale": {"domain": ["Ic-Ctrl","Ic-Ep","Ic-Mon","Ic-Mon/Ep","Ni-Ctrl","Ni-Mon/Ep"], "paddingInner": 0, "paddingOuter": 0.05}, "axis": {"title": "C", "titleX": -56, "titleY": -182, "titleAngle": 0, "titleFontSize": 22, "titleFontWeight": "normal", "titleAlign": "left", "titleBaseline": "alphabetic", "labelFontWeight": "normal", "minExtent": 26}},
     "xOffset": {"field": "r", "type": "ordinal", "scale": {"range": [14.4, 48.6], "paddingInner": 0, "paddingOuter": 0}},
     "y": {"field": "v", "type": "quantitative", "scale": {"domain": [0, 3000], "nice": false}, "axis": {"values": [0, 1000, 2000, 3000], "tickCount": 10, "format": "d", "labelOverlap": false, "title": "GM-CSF pg/mL", "labelFontWeight": "normal", "titleFontWeight": "normal"}},
     "shape": {"field": "g", "type": "nominal", "scale": {"domain": ["Ic-Ctrl","Ic-Ep","Ic-Mon","Ic-Mon/Ep","Ni-Ctrl","Ni-Mon/Ep","Mon-Ctrl","Mon","Ep-Ctrl","Ep"], "range": ["square","square","circle","triangle-down","diamond","diamond","triangle-up","triangle-up","circle","circle"]}, "legend": null},
     "fill": {"field": "g", "type": "nominal", "scale": {"domain": ["Ic-Ctrl","Ic-Ep","Ic-Mon","Ic-Mon/Ep","Ni-Ctrl","Ni-Mon/Ep","Mon-Ctrl","Mon","Ep-Ctrl","Ep"], "range": ["white","black","black","black","white","black","white","black","white","black"]}, "legend": null}
    }},
   {"data": {"name": "pts"}, "transform": [{"filter": "datum.c=='GM-CSF' && datum.s=='d'"}],
    "mark": {"type": "tick", "size": 34, "thickness": 2, "color": "black", "opacity": 1},
    "encoding": {
     "x": {"field": "g", "type": "nominal", "scale": {"domain": ["Ic-Ctrl","Ic-Ep","Ic-Mon","Ic-Mon/Ep","Ni-Ctrl","Ni-Mon/Ep"], "paddingInner": 0, "paddingOuter": 0.05}},
     "y": {"aggregate": "mean", "field": "v", "type": "quantitative", "scale": {"domain": [0, 3000], "nice": false}}
    }},
   {"data": {"name": "ann"}, "transform": [{"filter": "datum.c=='GM-CSF' && datum.s=='d' && datum.m!='⊥'"}],
    "mark": {"type": "text", "font": "Liberation Sans", "fontSize": 14, "fontWeight": "bold", "color": "black", "baseline": "middle"},
    "encoding": {
     "x": {"field": "g", "type": "nominal", "scale": {"domain": ["Ic-Ctrl","Ic-Ep","Ic-Mon","Ic-Mon/Ep","Ni-Ctrl","Ni-Mon/Ep"], "paddingInner": 0, "paddingOuter": 0.05}},
     "y": {"field": "v", "type": "quantitative", "scale": {"domain": [0, 3000], "nice": false}},
     "text": {"field": "m"}
    }},
   {"data": {"name": "ann"}, "transform": [{"filter": "datum.c=='GM-CSF' && datum.s=='d' && datum.m=='⊥'"}],
    "mark": {"type": "text", "font": "DejaVu Sans", "fontSize": 13, "color": "black", "baseline": "middle"},
    "encoding": {
     "x": {"field": "g", "type": "nominal", "scale": {"domain": ["Ic-Ctrl","Ic-Ep","Ic-Mon","Ic-Mon/Ep","Ni-Ctrl","Ni-Mon/Ep"], "paddingInner": 0, "paddingOuter": 0.05}},
     "y": {"field": "v", "type": "quantitative", "scale": {"domain": [0, 3000], "nice": false}},
     "text": {"field": "m"}
    }}
  ]},
 {"width": 267, "height": 172,
  "title": {"text": "GM-CSF", "dy": -9},
  "layer": [
   {"data": {"name": "pts"}, "transform": [{"filter": "datum.c=='GM-CSF' && datum.s=='m'"}],
    "mark": {"type": "point", "filled": true, "size": 75, "stroke": "black", "strokeWidth": 1.5, "opacity": 1},
    "encoding": {
     "x": {"field": "g", "type": "nominal", "scale": {"domain": ["Mon-Ctrl","Mon","Ep-Ctrl","Ep"], "paddingInner": 0, "paddingOuter": 0}, "axis": {"title": null, "labelFontWeight": "normal", "minExtent": 26}},
     "xOffset": {"field": "r", "type": "ordinal", "scale": {"range": [16.3, 50.5], "paddingInner": 0, "paddingOuter": 0}},
     "y": {"field": "v", "type": "quantitative", "scale": {"domain": [0, 3000], "nice": false}, "axis": {"values": [0, 1000, 2000, 3000], "tickCount": 10, "format": "d", "labelOverlap": false, "title": null, "labelFontWeight": "normal"}},
     "shape": {"field": "g", "type": "nominal", "scale": {"domain": ["Ic-Ctrl","Ic-Ep","Ic-Mon","Ic-Mon/Ep","Ni-Ctrl","Ni-Mon/Ep","Mon-Ctrl","Mon","Ep-Ctrl","Ep"], "range": ["square","square","circle","triangle-down","diamond","diamond","triangle-up","triangle-up","circle","circle"]}, "legend": null},
     "fill": {"field": "g", "type": "nominal", "scale": {"domain": ["Ic-Ctrl","Ic-Ep","Ic-Mon","Ic-Mon/Ep","Ni-Ctrl","Ni-Mon/Ep","Mon-Ctrl","Mon","Ep-Ctrl","Ep"], "range": ["white","black","black","black","white","black","white","black","white","black"]}, "legend": null}
    }},
   {"data": {"name": "pts"}, "transform": [{"filter": "datum.c=='GM-CSF' && datum.s=='m'"}],
    "mark": {"type": "tick", "size": 36, "thickness": 2, "color": "black", "opacity": 1},
    "encoding": {
     "x": {"field": "g", "type": "nominal", "scale": {"domain": ["Mon-Ctrl","Mon","Ep-Ctrl","Ep"], "paddingInner": 0, "paddingOuter": 0}},
     "y": {"aggregate": "mean", "field": "v", "type": "quantitative", "scale": {"domain": [0, 3000], "nice": false}}
    }},
   {"data": {"name": "ann"}, "transform": [{"filter": "datum.c=='GM-CSF' && datum.s=='m'"}],
    "mark": {"type": "text", "font": "Liberation Sans", "fontSize": 14, "fontWeight": "bold", "color": "black", "baseline": "middle"},
    "encoding": {
     "x": {"field": "g", "type": "nominal", "scale": {"domain": ["Mon-Ctrl","Mon","Ep-Ctrl","Ep"], "paddingInner": 0, "paddingOuter": 0}},
     "y": {"field": "v", "type": "quantitative", "scale": {"domain": [0, 3000], "nice": false}},
     "text": {"field": "m"}
    }}
  ]}
]},
{"spacing": 0, "hconcat": [
 {"width": 384, "height": 174,
  "layer": [
   {"data": {"name": "pts"}, "transform": [{"filter": "datum.c=='PDGF-BB' && datum.s=='d'"}],
    "mark": {"type": "point", "filled": true, "size": 75, "stroke": "black", "strokeWidth": 1.5, "opacity": 1},
    "encoding": {
     "x": {"field": "g", "type": "nominal", "scale": {"domain": ["Ic-Ctrl","Ic-Ep","Ic-Mon","Ic-Mon/Ep","Ni-Ctrl","Ni-Mon/Ep"], "paddingInner": 0, "paddingOuter": 0.05}, "axis": {"title": "D", "titleX": -56, "titleY": -183, "titleAngle": 0, "titleFontSize": 22, "titleFontWeight": "normal", "titleAlign": "left", "titleBaseline": "alphabetic"}},
     "xOffset": {"field": "r", "type": "ordinal", "scale": {"range": [14.4, 48.6], "paddingInner": 0, "paddingOuter": 0}},
     "y": {"field": "v", "type": "quantitative", "scale": {"domain": [0, 500], "nice": false}, "axis": {"values": [0, 100, 200, 300, 400, 500], "tickCount": 10, "format": "d", "labelOverlap": false, "title": "PDGF-BB pg/mL"}},
     "shape": {"field": "g", "type": "nominal", "scale": {"domain": ["Ic-Ctrl","Ic-Ep","Ic-Mon","Ic-Mon/Ep","Ni-Ctrl","Ni-Mon/Ep","Mon-Ctrl","Mon","Ep-Ctrl","Ep"], "range": ["square","square","circle","triangle-down","diamond","diamond","triangle-up","triangle-up","circle","circle"]}, "legend": null},
     "fill": {"field": "g", "type": "nominal", "scale": {"domain": ["Ic-Ctrl","Ic-Ep","Ic-Mon","Ic-Mon/Ep","Ni-Ctrl","Ni-Mon/Ep","Mon-Ctrl","Mon","Ep-Ctrl","Ep"], "range": ["white","black","black","black","white","black","white","black","white","black"]}, "legend": null}
    }},
   {"data": {"name": "pts"}, "transform": [{"filter": "datum.c=='PDGF-BB' && datum.s=='d'"}],
    "mark": {"type": "tick", "size": 34, "thickness": 2, "color": "black", "opacity": 1},
    "encoding": {
     "x": {"field": "g", "type": "nominal", "scale": {"domain": ["Ic-Ctrl","Ic-Ep","Ic-Mon","Ic-Mon/Ep","Ni-Ctrl","Ni-Mon/Ep"], "paddingInner": 0, "paddingOuter": 0.05}},
     "y": {"aggregate": "mean", "field": "v", "type": "quantitative", "scale": {"domain": [0, 500], "nice": false}}
    }},
   {"data": {"name": "ann"}, "transform": [{"filter": "datum.c=='PDGF-BB' && datum.s=='d' && datum.m!='⊥'"}],
    "mark": {"type": "text", "font": "Liberation Sans", "fontSize": 14, "fontWeight": "bold", "color": "black", "baseline": "middle"},
    "encoding": {
     "x": {"field": "g", "type": "nominal", "scale": {"domain": ["Ic-Ctrl","Ic-Ep","Ic-Mon","Ic-Mon/Ep","Ni-Ctrl","Ni-Mon/Ep"], "paddingInner": 0, "paddingOuter": 0.05}},
     "y": {"field": "v", "type": "quantitative", "scale": {"domain": [0, 500], "nice": false}},
     "text": {"field": "m"}
    }},
   {"data": {"name": "ann"}, "transform": [{"filter": "datum.c=='PDGF-BB' && datum.s=='d' && datum.m=='⊥'"}],
    "mark": {"type": "text", "font": "DejaVu Sans", "fontSize": 13, "color": "black", "baseline": "middle"},
    "encoding": {
     "x": {"field": "g", "type": "nominal", "scale": {"domain": ["Ic-Ctrl","Ic-Ep","Ic-Mon","Ic-Mon/Ep","Ni-Ctrl","Ni-Mon/Ep"], "paddingInner": 0, "paddingOuter": 0.05}},
     "y": {"field": "v", "type": "quantitative", "scale": {"domain": [0, 500], "nice": false}},
     "text": {"field": "m"}
    }}
  ]},
 {"width": 267, "height": 174,
  "title": {"text": "PDGF-BB", "dy": -5},
  "layer": [
   {"data": {"name": "pts"}, "transform": [{"filter": "datum.c=='PDGF-BB' && datum.s=='m'"}],
    "mark": {"type": "point", "filled": true, "size": 75, "stroke": "black", "strokeWidth": 1.5, "opacity": 1},
    "encoding": {
     "x": {"field": "g", "type": "nominal", "scale": {"domain": ["Mon-Ctrl","Mon","Ep-Ctrl","Ep"], "paddingInner": 0, "paddingOuter": 0}, "axis": {"title": null}},
     "xOffset": {"field": "r", "type": "ordinal", "scale": {"range": [16.3, 50.5], "paddingInner": 0, "paddingOuter": 0}},
     "y": {"field": "v", "type": "quantitative", "scale": {"domain": [0, 500], "nice": false}, "axis": {"values": [0, 100, 200, 300, 400, 500], "tickCount": 10, "format": "d", "labelOverlap": false, "title": null}},
     "shape": {"field": "g", "type": "nominal", "scale": {"domain": ["Ic-Ctrl","Ic-Ep","Ic-Mon","Ic-Mon/Ep","Ni-Ctrl","Ni-Mon/Ep","Mon-Ctrl","Mon","Ep-Ctrl","Ep"], "range": ["square","square","circle","triangle-down","diamond","diamond","triangle-up","triangle-up","circle","circle"]}, "legend": null},
     "fill": {"field": "g", "type": "nominal", "scale": {"domain": ["Ic-Ctrl","Ic-Ep","Ic-Mon","Ic-Mon/Ep","Ni-Ctrl","Ni-Mon/Ep","Mon-Ctrl","Mon","Ep-Ctrl","Ep"], "range": ["white","black","black","black","white","black","white","black","white","black"]}, "legend": null}
    }},
   {"data": {"name": "pts"}, "transform": [{"filter": "datum.c=='PDGF-BB' && datum.s=='m'"}],
    "mark": {"type": "tick", "size": 36, "thickness": 2, "color": "black", "opacity": 1},
    "encoding": {
     "x": {"field": "g", "type": "nominal", "scale": {"domain": ["Mon-Ctrl","Mon","Ep-Ctrl","Ep"], "paddingInner": 0, "paddingOuter": 0}},
     "y": {"aggregate": "mean", "field": "v", "type": "quantitative", "scale": {"domain": [0, 500], "nice": false}}
    }},
   {"data": {"name": "ann"}, "transform": [{"filter": "datum.c=='PDGF-BB' && datum.s=='m'"}],
    "mark": {"type": "text", "font": "Liberation Sans", "fontSize": 14, "fontWeight": "bold", "color": "black", "baseline": "middle"},
    "encoding": {
     "x": {"field": "g", "type": "nominal", "scale": {"domain": ["Mon-Ctrl","Mon","Ep-Ctrl","Ep"], "paddingInner": 0, "paddingOuter": 0}},
     "y": {"field": "v", "type": "quantitative", "scale": {"domain": [0, 500], "nice": false}},
     "text": {"field": "m"}
    }}
  ]}
]}
]
}
